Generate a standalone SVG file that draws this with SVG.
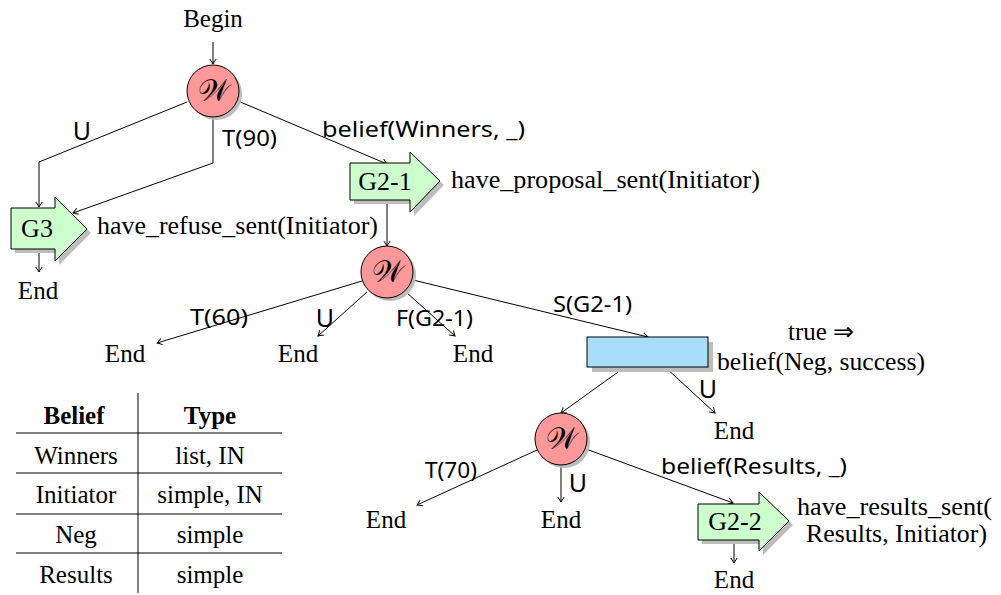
<svg xmlns="http://www.w3.org/2000/svg" width="1001" height="595" viewBox="0 0 1001 595">
<style>
.t{font-family:"Liberation Serif",serif;font-size:25px;fill:#000}
.lb{font-family:"Noto Sans",sans-serif;font-size:21px;fill:#000}
.lu{font-family:"Noto Sans",sans-serif;font-size:25px;fill:#000}
.w{font-family:"DejaVu Serif","DejaVu Sans","Noto Sans",serif;font-size:30px;fill:#000}
.g{font-family:"Liberation Serif",serif;font-size:26px;fill:#000}
.tb{font-family:"Liberation Serif",serif;font-size:25px;fill:#000}
.e{fill:none;stroke:#000;stroke-width:1}
.sh{fill:#bdbdbd}
.circ{fill:#ff9999;stroke:#000;stroke-width:1}
.grn{fill:#ccffcc;stroke:#000;stroke-width:1}
.blu{fill:#a9def8;stroke:#000;stroke-width:1}
.tl{stroke:#000;stroke-width:1}
</style>
<defs>
<marker id="arr" viewBox="-6 -4 7 8" refX="0" refY="0" markerWidth="7" markerHeight="8" markerUnits="userSpaceOnUse" orient="auto">
<path d="M-5,-3.2 Q-1.5,-0.8 0,0 Q-1.5,0.8 -5,3.2" fill="none" stroke="#000" stroke-width="1"/>
</marker>
</defs>

<g id="connectors" class="e" marker-end="url(#arr)">
<line x1="213" y1="42" x2="213" y2="64"/>
<polyline points="187,102 39,162 39,207"/>
<polyline points="213,117 213,163 73,213"/>
<line x1="238" y1="101" x2="387" y2="164"/>
<line x1="39" y1="249" x2="39" y2="272"/>
<line x1="387" y1="200" x2="387" y2="246"/>
<line x1="362" y1="281" x2="157" y2="343"/>
<line x1="367" y1="292" x2="318" y2="336"/>
<line x1="406" y1="292" x2="455" y2="336"/>
<line x1="413" y1="280" x2="648" y2="337"/>
<line x1="625" y1="367" x2="561" y2="413"/>
<line x1="665" y1="367" x2="715" y2="413"/>
<line x1="537" y1="450" x2="417" y2="505"/>
<line x1="561" y1="465" x2="561" y2="502"/>
<line x1="586" y1="449" x2="733" y2="503"/>
<line x1="734" y1="540" x2="734" y2="563"/>
</g>

<g id="edge-labels">
<text class="lu" x="82" y="140" text-anchor="middle">U</text>
<text class="lb" x="222" y="146" textLength="55" lengthAdjust="spacingAndGlyphs">T(90)</text>
<text class="lb" x="322" y="137" textLength="203" lengthAdjust="spacingAndGlyphs">belief(Winners, _)</text>
<text class="lb" x="190" y="325" textLength="58" lengthAdjust="spacingAndGlyphs">T(60)</text>
<text class="lu" x="325" y="327" text-anchor="middle">U</text>
<text class="lb" x="396" y="326" textLength="77" lengthAdjust="spacingAndGlyphs">F(G2-1)</text>
<text class="lb" x="553" y="312" textLength="79" lengthAdjust="spacingAndGlyphs">S(G2-1)</text>
<text class="lu" x="708" y="398" text-anchor="middle">U</text>
<text class="lb" x="425" y="478" textLength="52" lengthAdjust="spacingAndGlyphs">T(70)</text>
<text class="lu" x="578" y="492" text-anchor="middle">U</text>
<text class="lb" x="661" y="474" textLength="186" lengthAdjust="spacingAndGlyphs">belief(Results, _)</text>
</g>

<g id="begin"><text class="t" x="213" y="27" text-anchor="middle">Begin</text></g>

<g id="w1">
<circle class="sh" cx="216" cy="94" r="26"/>
<circle class="circ" cx="213" cy="91" r="26"/>
<text class="w" x="213" y="101" text-anchor="middle">𝒲</text>
</g>

<g id="g3">
<path class="sh" d="M15,212 H59 V201 L91,233 L59,265 V253 H15 Z"/>
<path class="grn" d="M11,208 H55 V197 L87,229 L55,261 V249 H11 Z"/>
<text class="g" x="37" y="237" text-anchor="middle">G3</text>
<text class="t" x="97" y="234" textLength="281" lengthAdjust="spacingAndGlyphs">have_refuse_sent(Initiator)</text>
</g>
<g id="end1"><text class="t" x="38" y="299" text-anchor="middle">End</text></g>

<g id="g2-1">
<path class="sh" d="M354,167 H414 V156 L444,185 L414,216 V204 H354 Z"/>
<path class="grn" d="M350,163 H410 V152 L440,181 L410,212 V200 H350 Z"/>
<text class="g" x="385" y="190" text-anchor="middle">G2-1</text>
<text class="t" x="451" y="188" textLength="309" lengthAdjust="spacingAndGlyphs">have_proposal_sent(Initiator)</text>
</g>

<g id="w2">
<circle class="sh" cx="390" cy="275" r="26"/>
<circle class="circ" cx="387" cy="272" r="26"/>
<text class="w" x="387" y="282" text-anchor="middle">𝒲</text>
</g>

<g id="end2"><text class="t" x="125" y="362" text-anchor="middle">End</text></g>
<g id="end3"><text class="t" x="298" y="362" text-anchor="middle">End</text></g>
<g id="end4"><text class="t" x="473" y="362" text-anchor="middle">End</text></g>

<g id="act">
<rect class="sh" x="592" y="342" width="121" height="30"/>
<rect class="blu" x="587" y="337" width="121" height="30"/>
<text class="t" x="821" y="340" text-anchor="middle">true ⇒</text>
<text class="t" x="717" y="370" textLength="208" lengthAdjust="spacingAndGlyphs">belief(Neg, success)</text>
</g>
<g id="end5"><text class="t" x="734" y="439" text-anchor="middle">End</text></g>

<g id="w3">
<circle class="sh" cx="564" cy="442" r="26"/>
<circle class="circ" cx="561" cy="439" r="26"/>
<text class="w" x="561" y="449" text-anchor="middle">𝒲</text>
</g>
<g id="end6"><text class="t" x="386" y="528" text-anchor="middle">End</text></g>
<g id="end7"><text class="t" x="561" y="528" text-anchor="middle">End</text></g>

<g id="g2-2">
<path class="sh" d="M702,508 H763 V496 L793,525 L763,555 V544 H702 Z"/>
<path class="grn" d="M698,504 H759 V492 L789,521 L759,551 V540 H698 Z"/>
<text class="g" x="735" y="530" text-anchor="middle">G2-2</text>
<text class="t" x="797" y="515" textLength="195" lengthAdjust="spacingAndGlyphs">have_results_sent(</text>
<text class="t" x="806" y="542" textLength="181" lengthAdjust="spacingAndGlyphs">Results, Initiator)</text>
</g>
<g id="end8"><text class="t" x="734" y="588" text-anchor="middle">End</text></g>

<g id="table">
<line class="tl" x1="138" y1="393" x2="138" y2="593"/>
<line class="tl" x1="16" y1="433" x2="282" y2="433"/>
<line class="tl" x1="16" y1="473" x2="282" y2="473"/>
<line class="tl" x1="16" y1="514" x2="282" y2="514"/>
<line class="tl" x1="16" y1="553" x2="282" y2="553"/>
<text class="tb" x="74" y="424" text-anchor="middle" font-weight="bold">Belief</text>
<text class="tb" x="210" y="424" text-anchor="middle" font-weight="bold">Type</text>
<text class="tb" x="76" y="464" text-anchor="middle">Winners</text>
<text class="tb" x="210" y="464" text-anchor="middle">list, IN</text>
<text class="tb" x="76" y="503" text-anchor="middle">Initiator</text>
<text class="tb" x="210" y="503" text-anchor="middle">simple, IN</text>
<text class="tb" x="76" y="543" text-anchor="middle">Neg</text>
<text class="tb" x="210" y="543" text-anchor="middle">simple</text>
<text class="tb" x="76" y="583" text-anchor="middle">Results</text>
<text class="tb" x="210" y="583" text-anchor="middle">simple</text>
</g>
</svg>
